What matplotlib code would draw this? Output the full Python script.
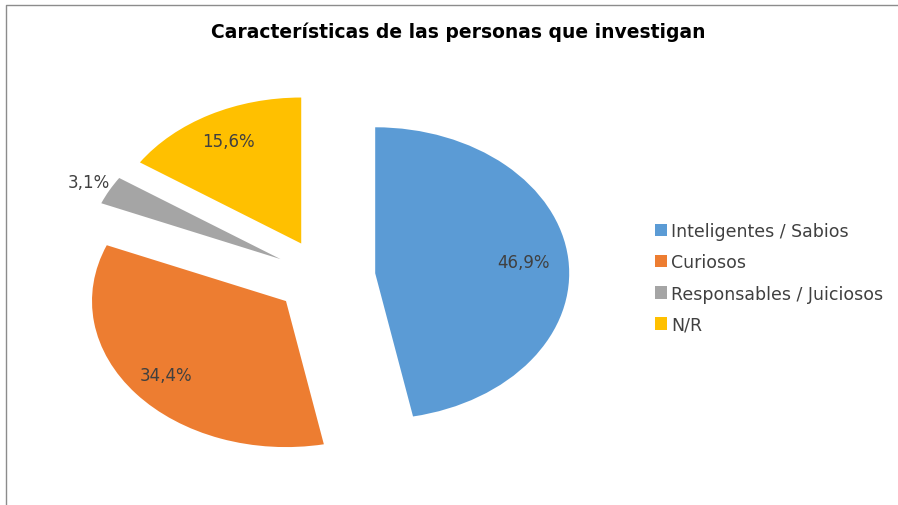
import matplotlib.pyplot as plt
from matplotlib.lines import Line2D

categorias = ['Inteligentes / Sabios', 'Curiosos', 'Responsables / Juiciosos', 'N/R']
conteos = [15, 11, 1, 5]
colores = ['#5B9BD5', '#ED7D31', '#A5A5A5', '#FFC000']
separacion = [0.26, 0.26, 0.26, 0.26]
titulo = 'Características de las personas que investigan'

plt.rcParams['font.family'] = ['DejaVu Sans']

fig = plt.figure(figsize=(8.98, 5.06), dpi=100)
W, H = 898, 506

# marco del gráfico (solo se ven el borde izquierdo y el superior)
fig.lines.append(Line2D([5.5 / W, 5.5 / W, 1.0], [0.0, 1 - 6 / H, 1 - 6 / H],
                        transform=fig.transFigure, color='#8c8c8c', linewidth=1.0))

ax = fig.add_axes([34 / W, 9 / H, 582 / W, 438 / H])


def fmt(p):
    return ('%.1f%%' % p).replace('.', ',')


wedges, texts, autotexts = ax.pie(conteos, colors=colores, explode=separacion, startangle=90,
                                  counterclock=False, autopct=fmt, pctdistance=0.8,
                                  wedgeprops=dict(linewidth=0),
                                  textprops=dict(color='#404040', fontsize=12))
ax.set_aspect('auto')
ax.set_xlim(-1.5, 1.5)
ax.set_ylim(-1.5, 1.5)


def mover(i, dist):
    cx, cy = wedges[i].center
    tx, ty = autotexts[i].get_position()
    k = dist / 0.8
    autotexts[i].set_position((cx + (tx - cx) * k, cy + (ty - cy) * k))


mover(0, 0.77)
mover(2, 1.12)  # etiqueta pequeña fuera del sector

fig.text(458 / W, 1 - 32 / H, titulo, ha='center', va='center', fontsize=13.5,
         fontweight='bold', color='black')

fig.legend(wedges, categorias, loc='center left', bbox_to_anchor=(639 / W, 1 - 279 / H),
           frameon=False, fontsize=12.5, handlelength=0.7, handleheight=0.7,
           handletextpad=0.25, labelspacing=0.75, labelcolor='#404040')

fig.savefig('out.png', dpi=100)
